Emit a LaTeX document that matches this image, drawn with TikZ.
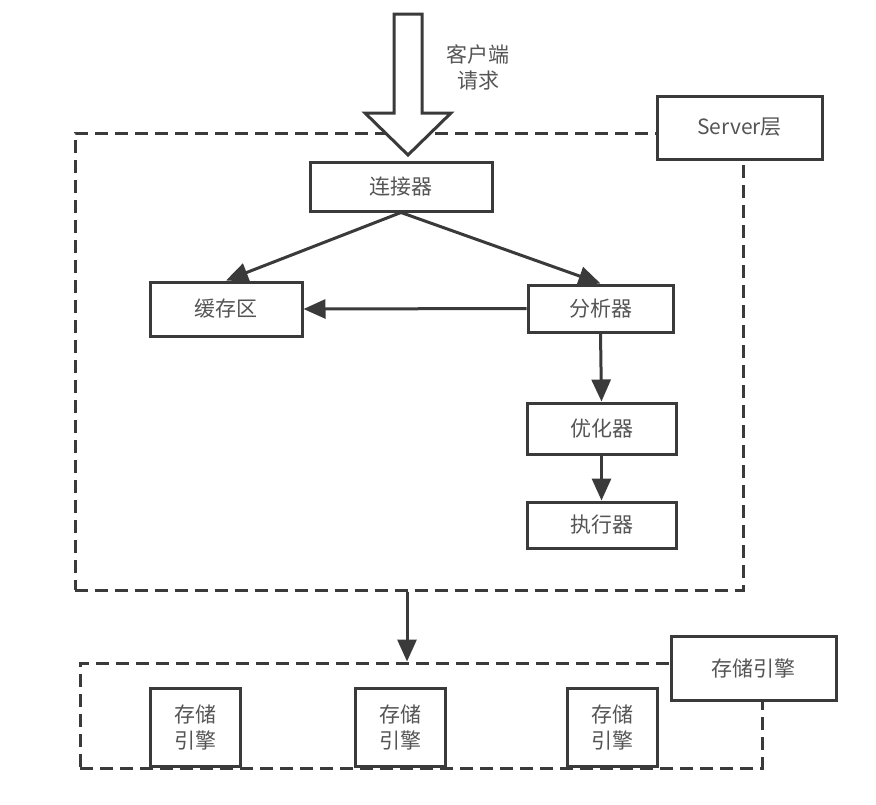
\documentclass[tikz,border=0pt]{standalone}
\usepackage{fontspec}
\setmainfont{Noto Sans CJK SC}
\usetikzlibrary{arrows.meta}
\definecolor{ln}{HTML}{3A3A3A}
\definecolor{tx}{HTML}{555555}
\tikzset{
  box/.style={draw=ln, line width=3pt, fill=white, text=tx, font=\fontsize{21}{26}\selectfont, inner sep=0pt, align=center},
  dashbox/.style={draw=ln, line width=3pt, dash pattern=on 13pt off 7pt, inner sep=0pt},
  arr/.style={draw=ln, line width=3pt, -{Triangle[length=22pt,width=19pt]}},
}
\begin{document}
\begin{tikzpicture}[x=1pt,y=-1pt]
\useasboundingbox (0,0) rectangle (876,804);
% dashed containers
\node[dashbox, minimum width=668pt, minimum height=457pt] (srv) at (409,361.5) {};
\node[dashbox, minimum width=682pt, minimum height=105pt] (sto) at (421,715.5) {};
% labels of containers
\node[box, minimum width=165pt, minimum height=63pt] (srvlbl) at (739.5,127.5) {Server层};
\node[box, minimum width=165pt, minimum height=64pt] (stolbl) at (753.5,668) {存储引擎};
% big hollow arrow
\draw[ln, line width=3pt, fill=white, line join=miter]
  (394,14) -- (422,14) -- (422,113) -- (451,113) -- (408,155) -- (365,113) -- (394,113) -- cycle;
\node[text=tx, font=\fontsize{21}{26}\selectfont, align=center] (req) at (478,67) {客户端\\请求};
% server nodes
\node[box, minimum width=182pt, minimum height=49pt] (conn) at (401,186.5) {连接器};
\node[box, minimum width=152pt, minimum height=54pt] (cache) at (226,309) {缓存区};
\node[box, minimum width=145pt, minimum height=47pt] (ana) at (600.5,308.5) {分析器};
\node[box, minimum width=149pt, minimum height=51pt] (opt) at (601.5,428.5) {优化器};
\node[box, minimum width=149pt, minimum height=46pt] (exe) at (601.5,525) {执行器};
% storage engines
\node[box, minimum width=90pt, minimum height=78pt] (e1) at (195,727) {存储\\引擎};
\node[box, minimum width=90pt, minimum height=78pt] (e2) at (400,727) {存储\\引擎};
\node[box, minimum width=90pt, minimum height=78pt] (e3) at (612,727) {存储\\引擎};
% connectors
\draw[arr] (conn.south) -- (cache.north);
\draw[arr] (conn.south) -- (ana.north);
\draw[arr] (ana.west) -- (cache.east);
\draw[arr] (ana.south) -- (opt.north);
\draw[arr] (opt.south) -- (exe.north);
\draw[arr] ([xshift=-2pt]srv.south) -- ([xshift=-2pt]srv.south |- sto.north);
\end{tikzpicture}
\end{document}
